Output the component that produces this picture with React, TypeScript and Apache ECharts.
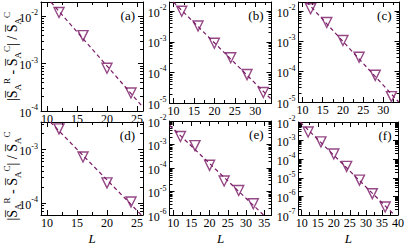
import React, { useEffect, useRef } from "react";
import * as echarts from "echarts";

// ---- data ----
const L_A = [12, 16, 20, 24];
const V_A = [1.2e-2, 3.9e-3, 8.0e-4, 2.4e-4];
const L_B = [12, 16, 20, 24, 28, 32];
const V_B = [1.0e-2, 3.3e-3, 9.0e-4, 3.0e-4, 8.5e-5, 2.2e-5];
const L_C = [12, 16, 20, 24, 28, 32];
const V_C = [1.2e-2, 4.2e-3, 1.07e-3, 3.0e-4, 7.6e-5, 1.5e-5];
const L_D = [12, 16, 20, 24];
const V_D = [2.45e-3, 7.3e-4, 2.4e-4, 1.05e-4];
const L_E = [12, 16, 20, 24, 28, 32];
const V_E = [2.2e-3, 9.0e-4, 1.3e-4, 2.8e-5, 1.1e-5, 3.0e-6];
const L_F = [12, 16, 20, 24, 28, 32, 36];
const V_F = [2.9e-3, 8.5e-4, 1.9e-4, 4.1e-5, 7.5e-6, 1.4e-6, 2.7e-7];

const X_TICKS_A = [10, 15, 20, 25];
const X_TICKS_B = [10, 15, 20, 25, 30];
const X_TICKS_E = [10, 15, 20, 25, 30, 35];
const X_TICKS_F = [10, 15, 20, 25, 30, 35, 40];
const PANEL_LABELS = ["(a)", "(b)", "(c)", "(d)", "(e)", "(f)"];

const COLOR = "#7a1a66";
const FONT = "Liberation Serif";

const panels = [
  { L: L_A, V: V_A, xt: X_TICKS_A, left: 41, top: 2, width: 102, height: 109, xmin: 9, xmax: 26, ymin: 1e-4, ymax: 2e-2, xname: "" },
  { L: L_B, V: V_B, xt: X_TICKS_B, left: 169.5, top: 2, width: 102, height: 101, xmin: 9, xmax: 34, ymin: 1e-5, ymax: 2e-2, xname: "" },
  { L: L_C, V: V_C, xt: X_TICKS_B, left: 298.5, top: 2, width: 101, height: 100, xmin: 9, xmax: 34, ymin: 1e-5, ymax: 2e-2, xname: "" },
  { L: L_D, V: V_D, xt: X_TICKS_A, left: 41, top: 122, width: 102, height: 108, xmin: 9, xmax: 26, ymin: 6e-5, ymax: 3.3e-3, xname: "L" },
  { L: L_E, V: V_E, xt: X_TICKS_E, left: 169.5, top: 121, width: 102, height: 101, xmin: 9, xmax: 37, ymin: 1e-6, ymax: 1e-2, xname: "L" },
  { L: L_F, V: V_F, xt: X_TICKS_F, left: 298.5, top: 122, width: 101, height: 101, xmin: 9, xmax: 40, ymin: 1e-7, ymax: 1e-2, xname: "L" },
];

// the y axes are value axes over log10 of the values (decades)
const lg = (v: number) => Math.log10(v);

function decadeTicks(lo: number, hi: number) {
  const out: number[] = [];
  for (let e = Math.ceil(lo - 1e-9); e <= Math.floor(hi + 1e-9); e++) out.push(e);
  return out;
}
function minorTicks(lo: number, hi: number) {
  const out: number[] = [];
  for (let e = Math.floor(lo) - 1; e <= Math.ceil(hi); e++) {
    for (let k = 2; k <= 9; k++) {
      const v = e + Math.log10(k);
      if (v >= lo && v <= hi) out.push(v);
    }
  }
  return out;
}

// least-squares fit of log10(V) against L, kept inside the panel's ranges
function fitLine(L: number[], V: number[], x0: number, x1: number, lo: number, hi: number) {
  const n = L.length;
  const ys = V.map(lg);
  const mx = L.reduce((a, b) => a + b, 0) / n;
  const my = ys.reduce((a, b) => a + b, 0) / n;
  let sxy = 0, sxx = 0;
  for (let i = 0; i < n; i++) {
    sxy += (L[i] - mx) * (ys[i] - my);
    sxx += (L[i] - mx) * (L[i] - mx);
  }
  const b = sxy / sxx;
  const a = my - b * mx;
  const s = Math.max(x0, (hi - a) / b);
  const e = Math.min(x1, (lo - a) / b);
  return [
    [s, a + b * s],
    [e, a + b * e],
  ];
}

function buildOption() {
  const grid: any[] = [];
  const xAxis: any[] = [];
  const yAxis: any[] = [];
  const series: any[] = [];
  const graphic: any[] = [];

  panels.forEach((p, i) => {
    const lo = lg(p.ymin), hi = lg(p.ymax);
    grid.push({ left: p.left, top: p.top, width: p.width, height: p.height, containLabel: false });
    const xMinor: number[] = [];
    for (let v = p.xt[0] - 2.5; v <= p.xmax; v += 5) if (v >= p.xmin) xMinor.push(v);
    const yMaj = decadeTicks(lo, hi);
    const yMin = minorTicks(lo, hi);

    const xBase = xAxis.length;
    const mkX = (position: string, ticks: number[], len: number, main: boolean) => {
      const labelled = main && position === "bottom";
      return {
        type: "value",
        gridIndex: i,
        position,
        min: p.xmin,
        max: p.xmax,
        name: labelled && p.xname ? p.xname : "",
        nameLocation: "middle",
        nameGap: 17,
        nameTextStyle: { fontFamily: FONT, fontStyle: "italic", fontSize: 13, color: "#000" },
        axisLine: { show: main, onZero: false, lineStyle: { color: "#000", width: 1 } },
        axisTick: { show: true, inside: true, length: len, customValues: ticks, lineStyle: { color: "#000", width: 1 } },
        axisLabel: labelled
          ? { show: true, customValues: p.xt, fontFamily: FONT, fontSize: 12, color: "#000", margin: 2 }
          : { show: false },
        splitLine: { show: false },
      };
    };
    xAxis.push(mkX("bottom", p.xt, 5, true));
    xAxis.push(mkX("bottom", xMinor, 3, false));
    xAxis.push(mkX("top", p.xt, 5, true));
    xAxis.push(mkX("top", xMinor, 3, false));

    const yBase = yAxis.length;
    const mkY = (position: string, ticks: number[], len: number, main: boolean) => ({
      type: "value",
      gridIndex: i,
      position,
      min: lo,
      max: hi,
      axisLine: { show: main, onZero: false, lineStyle: { color: "#000", width: 1 } },
      axisTick: { show: true, inside: true, length: len, customValues: ticks, lineStyle: { color: "#000", width: 1 } },
      axisLabel: main && position === "left"
        ? {
            show: true,
            customValues: yMaj,
            margin: 3,
            formatter: (v: number) => `{b|10}{s|${Math.round(v)}}`,
            rich: {
              b: { fontFamily: FONT, fontSize: 12, color: "#000", verticalAlign: "bottom", lineHeight: 15 },
              s: { fontFamily: FONT, fontSize: 8, color: "#000", verticalAlign: "top" },
            },
          }
        : { show: false },
      splitLine: { show: false },
    });
    yAxis.push(mkY("left", yMaj, 5, true));
    yAxis.push(mkY("left", yMin, 3, false));
    yAxis.push(mkY("right", yMaj, 5, true));
    yAxis.push(mkY("right", yMin, 3, false));

    series.push({
      type: "line",
      xAxisIndex: xBase,
      yAxisIndex: yBase,
      data: fitLine(p.L, p.V, p.xmin, p.xmax, lo, hi),
      showSymbol: false,
      symbol: "none",
      clip: true,
      lineStyle: { color: COLOR, width: 1.2, type: [4, 3] },
      z: 2,
    });
    series.push({
      type: "scatter",
      xAxisIndex: xBase,
      yAxisIndex: yBase,
      data: p.L.map((l, k) => [l, lg(p.V[k])]),
      symbol: "triangle",
      symbolRotate: 180,
      symbolSize: 10,
      itemStyle: { color: "rgba(255,255,255,0)", borderColor: COLOR, borderWidth: 1.4 },
      z: 3,
    });

    graphic.push({
      type: "text",
      x: p.left + p.width - 8,
      y: p.top + 13,
      style: { text: PANEL_LABELS[i], fontFamily: FONT, fontSize: 13, fill: "#000", align: "right", verticalAlign: "middle" },
    });
  });

  const title = "|{o|S\u0305}{sub|A}{sup|R} - {o|S\u0305}{sub|A}{sup|C}| / {o|S\u0305}{sub|A}{sup|C}";
  const titleRich = {
    o: { fontFamily: FONT, fontSize: 14, fill: "#000", verticalAlign: "middle", lineHeight: 20 },
    sub: { fontFamily: FONT, fontSize: 9, fill: "#000", verticalAlign: "bottom" },
    sup: { fontFamily: FONT, fontSize: 9, fill: "#000", verticalAlign: "top" },
  };
  [panels[0], panels[3]].forEach((p) => {
    graphic.push({
      type: "text",
      x: 12,
      y: p.top + p.height / 2,
      rotation: Math.PI / 2,
      style: {
        text: title,
        rich: titleRich,
        fontFamily: FONT,
        fontSize: 14,
        fill: "#000",
        align: "center",
        verticalAlign: "middle",
        lineHeight: 20,
      },
    });
  });

  return {
    animation: false,
    backgroundColor: "#fff",
    grid,
    xAxis,
    yAxis,
    series,
    graphic,
  };
}

export default function App() {
  const ref = useRef<HTMLDivElement>(null);
  useEffect(() => {
    if (!ref.current) return;
    const chart = echarts.init(ref.current, undefined, { renderer: "svg" });
    chart.setOption(buildOption() as any);
    return () => chart.dispose();
  }, []);
  return <div ref={ref} style={{ position: "fixed", left: 0, top: 0, width: 407, height: 246 }} />;
}
